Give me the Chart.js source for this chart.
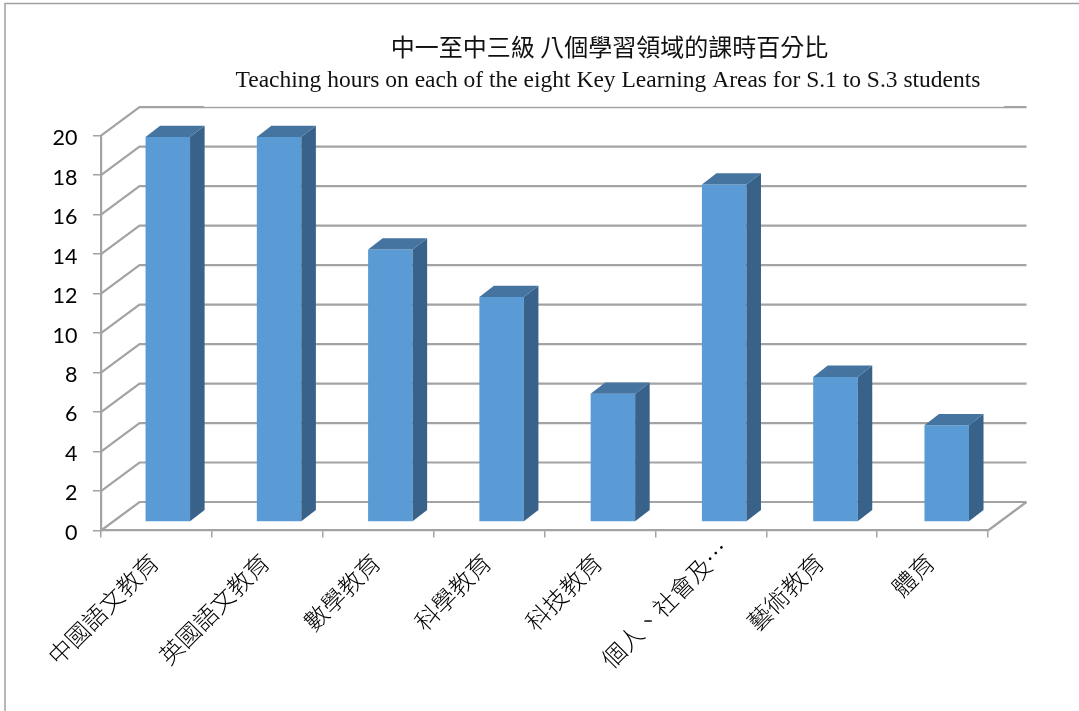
<!DOCTYPE html>
<html>
<head>
<meta charset="utf-8">
<script src="https://cdn.jsdelivr.net/npm/chart.js@4"></script>
<style>html,body{margin:0;padding:0;background:#fff}canvas{display:block}</style>
</head>
<body>
<canvas id="c" width="1079" height="711"></canvas>
<script>
const categories = ['中國語文教育','英國語文教育','數學教育','科學教育','科技教育','個人、社會及…','藝術教育','體育'];
const hours = [19.5,19.5,13.8,11.4,6.5,17.1,7.35,4.9];
const titleText = '中一至中三級 八個學習領域的課時百分比';
const subtitleText = 'Teaching hours on each of the eight Key Learning Areas for S.1 to S.3 students';

const GRID = '#a3a3a3';
const FRONT = '#5b9bd5', SIDE = '#38628a', TOP = '#44749f';
const WALL = {dx:38.5, dy:-28.5};
const BAR_PLANE = {dx:10.8, dy:-8.5, sx:1.0036};
const BAR_DEPTH = {dx:14.5, dy:-11.3};

const poly = (ctx, pts, fill) => {
  ctx.beginPath();
  pts.forEach((p,i)=> i ? ctx.lineTo(p[0],p[1]) : ctx.moveTo(p[0],p[1]));
  ctx.closePath();
  ctx.fillStyle = fill;
  ctx.fill();
};

const threeD = {
  id:'threeD',
  afterLayout(chart){
    chart.boxes.forEach(b=>{
      const t = b.options && b.options.text;
      if(t===titleText){b.left+=115.5;b.right+=115.5;}
      if(t===subtitleText){b.left+=114;b.right+=114;}
    });
  },
  afterUpdate(chart){
    const {x,y} = chart.scales;
    x.getLabelItems(chart.chartArea).forEach((it,i)=>{
      const tr = it.options.translation;
      if(i===5){tr[0]+=16;tr[1]-=15;} else {tr[1]-=1.5;}
    });
    y.getLabelItems(chart.chartArea).forEach(it=>{ it.options.translation[1]+=2.5; });
  },
  beforeDatasetsDraw(chart){
    const {ctx,scales:{y},chartArea:a} = chart;
    ctx.save();
    ctx.strokeStyle = GRID;
    ctx.lineWidth = 2.2;
    y.ticks.forEach(t=>{
      const py = y.getPixelForValue(t.value);
      ctx.beginPath();
      ctx.moveTo(a.left,py);
      ctx.lineTo(a.left+WALL.dx,py+WALL.dy);
      ctx.lineTo(a.right+WALL.dx,py+WALL.dy);
      ctx.stroke();
    });
    ctx.beginPath();
    ctx.moveTo(a.right,a.bottom);
    ctx.lineTo(a.right+WALL.dx,a.bottom+WALL.dy);
    ctx.stroke();
    ctx.fillStyle='#fff';
    ctx.fillRect(204,96,800,a.top+WALL.dy-96-0.4);
    ctx.restore();
    ctx.save();
    ctx.translate(BAR_PLANE.dx,BAR_PLANE.dy);
    ctx.scale(BAR_PLANE.sx,1);
  },
  afterDatasetsDraw(chart){
    const {ctx} = chart;
    chart.getDatasetMeta(0).data.forEach(el=>{
      const l=el.x-el.width/2, r=el.x+el.width/2, t=el.y, b=el.base;
      const dx=BAR_DEPTH.dx, dy=BAR_DEPTH.dy;
      poly(ctx,[[r,t],[r+dx,t+dy],[r+dx,b+dy],[r,b]],SIDE);
      poly(ctx,[[l,t],[l+dx,t+dy],[r+dx,t+dy],[r,t]],TOP);
    });
    ctx.restore();
  },
  afterDraw(chart){
    const {ctx} = chart;
    ctx.save();
    ctx.strokeStyle='#a0a0a0';
    ctx.lineWidth=1.5;
    ctx.beginPath();
    ctx.moveTo(5,711);ctx.lineTo(5,3.5);ctx.lineTo(1079,3.5);
    ctx.stroke();
    ctx.restore();
  }
};

new Chart(document.getElementById('c'),{
  type:'bar',
  data:{labels:categories,datasets:[{data:hours,backgroundColor:FRONT,barPercentage:0.4,categoryPercentage:1}]},
  plugins:[threeD],
  options:{
    responsive:false,
    animation:false,
    layout:{padding:{left:0,right:91,top:0,bottom:0}},
    plugins:{
      legend:{display:false},
      tooltip:{enabled:false},
      title:{display:true,text:titleText,color:'#111',
        font:{family:'"Noto Sans CJK TC"',size:24,weight:'normal',lineHeight:1.2},
        padding:{top:32.6,bottom:0}},
      subtitle:{display:true,text:subtitleText,color:'#111',
        font:{family:'"Liberation Serif"',size:23.5,weight:'normal',lineHeight:1.2},
        padding:{top:5.5,bottom:40.6}}
    },
    scales:{
      x:{
        afterFit(s){s.height=180.5;},
        border:{color:GRID,width:2.2},
        grid:{drawOnChartArea:false,color:GRID,tickLength:7,lineWidth:1.5,offset:true},
        ticks:{autoSkip:false,minRotation:45,maxRotation:45,padding:12,labelOffset:-2.5,color:'#000',
          font:{family:'"Noto Sans CJK TC"',size:24,weight:'300'}}
      },
      y:{
        min:0,max:20,
        afterFit(s){s.width=101;},
        border:{color:GRID,width:2.2},
        grid:{drawOnChartArea:false,color:GRID,tickLength:8,lineWidth:1.5},
        ticks:{stepSize:2,padding:15.5,color:'#000',font:{family:'Lato',size:21.5}}
      }
    }
  }
});
</script>
</body>
</html>
